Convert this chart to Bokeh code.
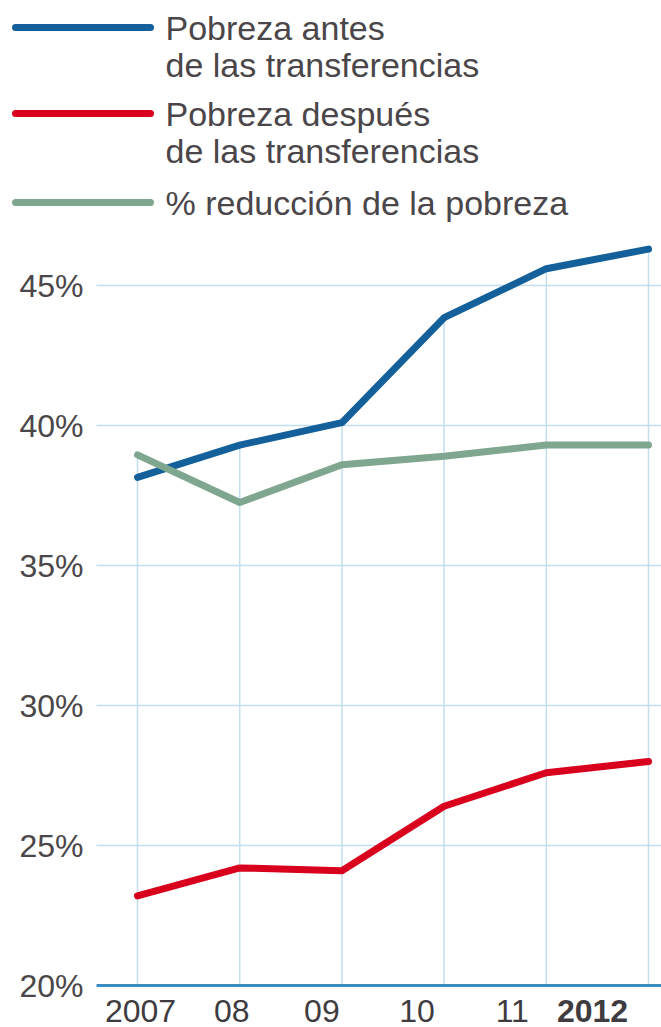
from bokeh.plotting import figure
from bokeh.models import ColumnDataSource, Range1d
from bokeh.embed import file_html
from bokeh.resources import INLINE
from bokeh.core.properties import value

# ---------------- data ----------------
years = [2007, 2008, 2009, 2010, 2011, 2012]
year_labels = ["2007", "08", "09", "10", "11", "2012"]
antes = [38.15, 39.3, 40.1, 43.85, 45.6, 46.3]        # Pobreza antes de las transferencias
despues = [23.2, 24.2, 24.1, 26.4, 27.6, 28.0]        # Pobreza después de las transferencias
reduccion = [38.95, 37.25, 38.6, 38.9, 39.3, 39.3]    # % reducción de la pobreza
y_ticks = [20, 25, 30, 35, 40, 45]
y_tick_labels = ["20%", "25%", "30%", "35%", "40%", "45%"]
legend_names = ["Pobreza antes\nde las transferencias",
                "Pobreza después\nde las transferencias",
                "% reducción de la pobreza"]

# ---------------- style / layout ----------------
W, H = 661, 1027
X_FIRST_PX, X_LAST_PX = 137, 648      # canvas px of first / last year
Y_LOW_PX, Y_HIGH_PX = 985, 285        # canvas px (from top) of 20% / 45%
FONT = value("Liberation Sans")
TEXT_COLOR = "#4a4649"
GRID_COLOR = "#c2deef"
AXIS_COLOR = "#3a8cc3"
COLORS = ["#13609a", "#d8001c", "#7fa68f"]
LINE_W = 7
x_label_offsets = [3, -8, -20, -27, -34, -56]
x_label_styles = ["normal", "normal", "normal", "normal", "normal", "bold"]


def fx(px):
    return years[0] + (px - X_FIRST_PX) * (years[-1] - years[0]) / (X_LAST_PX - X_FIRST_PX)


def fy(py):
    return y_ticks[0] + (Y_LOW_PX - py) * (y_ticks[-1] - y_ticks[0]) / (Y_LOW_PX - Y_HIGH_PX)


p = figure(width=W, height=H, output_backend="svg", toolbar_location=None,
           x_axis_location=None, y_axis_location=None,
           x_range=Range1d(fx(0), fx(W)), y_range=Range1d(fy(H), fy(0)),
           min_border=0)
p.outline_line_color = None
p.xgrid.visible = False
p.ygrid.visible = False
p.background_fill_color = "white"
p.border_fill_color = "white"

# horizontal grid lines
grid_x0 = fx(96)
hs = ColumnDataSource(dict(y=y_ticks[1:], x0=[grid_x0] * (len(y_ticks) - 1),
                           x1=[fx(W)] * (len(y_ticks) - 1)))
p.segment(x0="x0", x1="x1", y0="y", y1="y", source=hs, line_color=GRID_COLOR, line_width=1.5)

# vertical grid lines: from the highest value of each year down to the base
tops = [max(a, b, c) for a, b, c in zip(antes, despues, reduccion)]
vs = ColumnDataSource(dict(x=years, y0=[y_ticks[0]] * len(years), y1=tops))
p.segment(x0="x", x1="x", y0="y0", y1="y1", source=vs, line_color=GRID_COLOR, line_width=1.5)

# base axis line
p.segment(x0=[grid_x0], x1=[fx(W)], y0=[y_ticks[0]], y1=[y_ticks[0]],
          line_color=AXIS_COLOR, line_width=3)

# series
for ser, col in [(antes, COLORS[0]), (despues, COLORS[1]), (reduccion, COLORS[2])]:
    p.line(years, ser, line_color=col, line_width=LINE_W, line_join="round", line_cap="round")

# y tick labels
ys = ColumnDataSource(dict(x=[fx(83)] * len(y_ticks), y=y_ticks, t=y_tick_labels))
p.text(x="x", y="y", text="t", source=ys, text_font=FONT, text_font_size=value("32px"),
       text_align="right", text_baseline="middle", text_color=TEXT_COLOR)

# x tick labels
xs = ColumnDataSource(dict(x=years, y=[fy(1010)] * len(years), t=year_labels,
                           off=x_label_offsets, st=x_label_styles))
p.text(x="x", y="y", text="t", x_offset="off", text_font_style="st", source=xs,
       text_font=FONT, text_font_size=value("32px"),
       text_align="center", text_baseline="middle", text_color="#3f3c3f")

# legend (manual, multi-line labels)
row_px = [27, 113, 202]
pitch = 37
for i, name in enumerate(legend_names):
    yy = fy(row_px[i])
    p.segment(x0=[fx(15)], x1=[fx(150)], y0=[yy], y1=[yy], line_color=COLORS[i],
              line_width=LINE_W, line_cap="round")
    parts = name.split("\n")
    p.text(x=[fx(165)] * len(parts), y=[fy(row_px[i] + k * pitch) for k in range(len(parts))],
           text=parts, text_font=FONT, text_font_size=value("34px"),
           text_align="left", text_baseline="middle", text_color=TEXT_COLOR)

open("out.html", "w").write(file_html(p, INLINE))
